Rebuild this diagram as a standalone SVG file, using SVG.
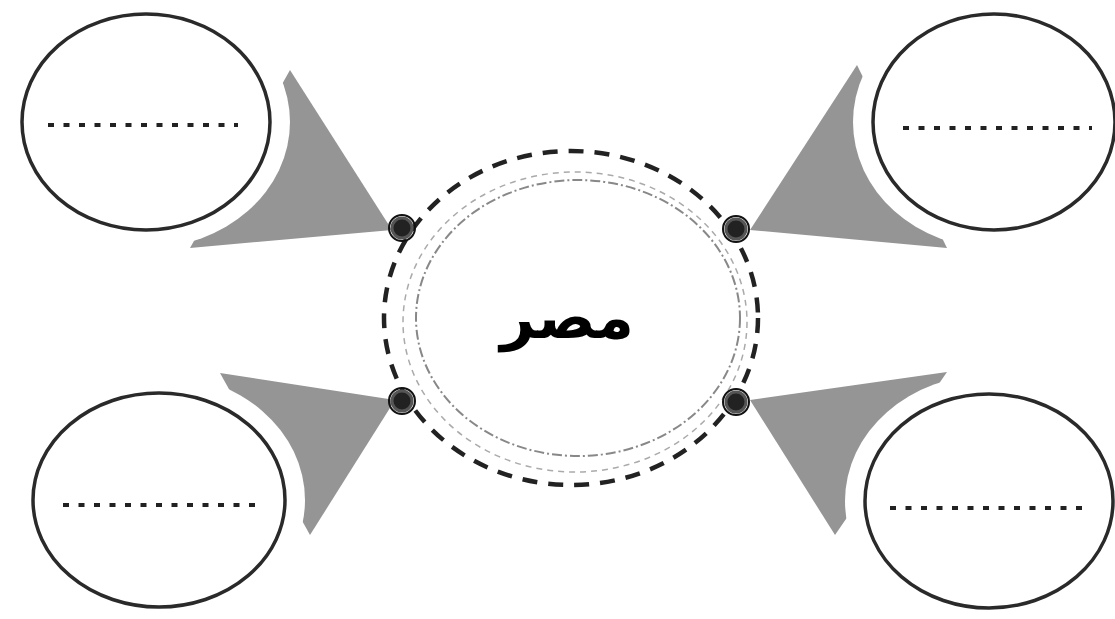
<svg xmlns="http://www.w3.org/2000/svg" width="1115" height="619" viewBox="0 0 1115 619">
<style>
.cone{fill:#959595;stroke:none}
.halo{fill:#fff;stroke:none}
.bubble{fill:#fff;stroke:#2a2a2a;stroke-width:3.5}
.blank{stroke:#222;stroke-width:4;stroke-dasharray:6 9.5;fill:none}
.dot{fill:#222;stroke:#555;stroke-width:3}
.dotring{fill:none;stroke:#111;stroke-width:2}
</style>
<rect width="1115" height="619" fill="#fff"/>
<g id="connectors">
<polygon class="cone" points="290,70 392,230 190,248"/>
<polygon class="cone" points="857,65 750,230 947,248"/>
<polygon class="cone" points="220,373 395,400 310,535"/>
<polygon class="cone" points="947,372 750,400 835,535"/>
</g>
<g id="center">
<ellipse cx="571" cy="318" rx="187" ry="167" fill="#fff" stroke="#222" stroke-width="4.5" stroke-dasharray="15 11"/>
<ellipse cx="578" cy="318" rx="162" ry="138" fill="none" stroke="#888" stroke-width="2" stroke-dasharray="10 3 2 3"/>
<ellipse cx="575" cy="322" rx="172" ry="150" fill="none" stroke="#aaa" stroke-width="1.5" stroke-dasharray="6 5"/>
<text x="567" y="338" text-anchor="middle" font-family="'DejaVu Sans','Noto Sans',sans-serif" font-weight="bold" font-size="60" fill="#000">مصر</text>
</g>
<g id="dot-tl"><circle class="dot" cx="402" cy="228" r="10"/><circle class="dotring" cx="402" cy="228" r="13"/></g>
<g id="dot-tr"><circle class="dot" cx="736" cy="229" r="10"/><circle class="dotring" cx="736" cy="229" r="13"/></g>
<g id="dot-bl"><circle class="dot" cx="402" cy="401" r="10"/><circle class="dotring" cx="402" cy="401" r="13"/></g>
<g id="dot-br"><circle class="dot" cx="736" cy="402" r="10"/><circle class="dotring" cx="736" cy="402" r="13"/></g>
<g id="bubble-tl">
<ellipse class="halo" cx="146" cy="122" rx="144" ry="126"/>
<ellipse class="bubble" cx="146" cy="122" rx="124" ry="108"/>
<line class="blank" x1="48" y1="125" x2="238" y2="125"/>
</g>
<g id="bubble-tr">
<ellipse class="halo" cx="994" cy="122" rx="141" ry="126"/>
<ellipse class="bubble" cx="994" cy="122" rx="121" ry="108"/>
<line class="blank" x1="903" y1="128" x2="1092" y2="128"/>
</g>
<g id="bubble-bl">
<ellipse class="halo" cx="159" cy="500" rx="146" ry="126"/>
<ellipse class="bubble" cx="159" cy="500" rx="126" ry="107"/>
<line class="blank" x1="63" y1="505" x2="255" y2="505"/>
</g>
<g id="bubble-br">
<ellipse class="halo" cx="989" cy="501" rx="144" ry="126"/>
<ellipse class="bubble" cx="989" cy="501" rx="124" ry="107"/>
<line class="blank" x1="890" y1="508" x2="1083" y2="508"/>
</g>
</svg>
